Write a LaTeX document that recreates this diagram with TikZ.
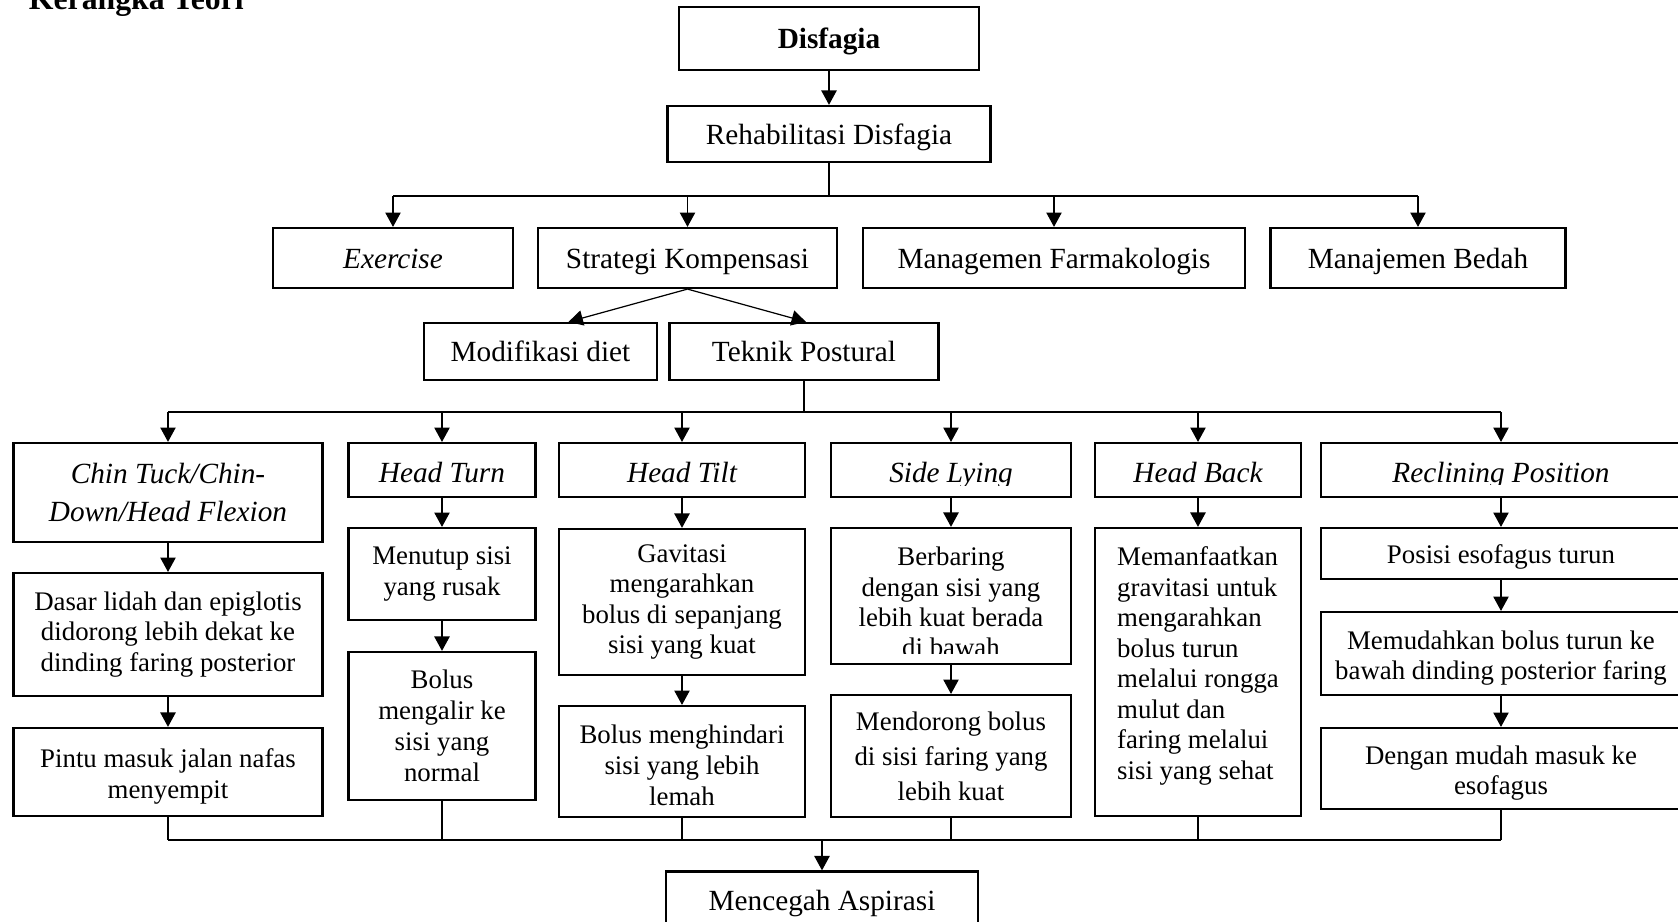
\documentclass[tikz,border=0pt]{standalone}
\usepackage{fontspec}
\setmainfont{Liberation Serif}
\usetikzlibrary{arrows.meta,calc}

\begin{document}
\begin{tikzpicture}[x=0.41pt, y=-0.41pt,
    kotak/.style={draw, line width=0.9pt, inner sep=3pt, align=center, font=\fontsize{12}{13.8}\selectfont},
    tunggal/.style={kotak, text height=8.6pt, text depth=0pt},
    posisi/.style={tunggal, font=\fontsize{12}{13.8}\selectfont\itshape, text height=10pt, minimum height=22.1pt},
    kecil/.style={kotak, font=\fontsize{11}{12.5}\selectfont},
    con/.style={line width=0.5pt},
    arr/.style={con, -{Triangle[length=5.9pt, width=6.3pt]}}]
    \useasboundingbox (0,0) rectangle (1678,922);

    % Define the title and the top boxes
    \node[font=\fontsize{13}{15}\selectfont\bfseries, anchor=base west, inner sep=0pt] (judul) at (28.5,9.5) {Kerangka Teori};
    \node[tunggal, font=\fontsize{12}{13.8}\selectfont\bfseries, minimum width=123pt, minimum height=25.8pt] (disfagia) at (829,38.5) {Disfagia};
    \node[tunggal, minimum width=132.4pt, minimum height=23pt] (rehab) at (829,134) {Rehabilitasi Disfagia};

    % Define the four kinds of rehabilitation
    \node[tunggal, minimum width=98.4pt, minimum height=24.6pt] (exercise) at (393,258) {\textit{Exercise}};
    \node[tunggal, minimum width=122.6pt, minimum height=24.6pt] (strategi) at (687.5,258) {Strategi Kompensasi};
    \node[tunggal, minimum width=156.8pt, minimum height=24.6pt] (farmako) at (1054,258) {Managemen Farmakologis};
    \node[tunggal, minimum width=121pt, minimum height=24.6pt] (bedah) at (1418,258) {Manajemen Bedah};
    \node[tunggal, minimum width=95.5pt, minimum height=23.4pt] (modif) at (540.5,351.5) {Modifikasi diet};
    \node[tunggal, minimum width=110.3pt, minimum height=23.4pt] (teknik) at (804,351.5) {Teknik Postural};

    % Define the postures
    \node[kotak, font=\fontsize{12}{15.8}\selectfont\itshape, minimum width=126.7pt, minimum height=40.6pt] (chin) at (168,492.5) {Chin Tuck/Chin-\\Down/Head Flexion};
    \node[posisi, minimum width=76.7pt] (turn) at (442,470) {Head Turn};
    \node[posisi, minimum width=100.9pt] (tilt) at (682,470) {Head Tilt};
    \node[posisi, minimum width=98.4pt] (lying) at (951,470) {};
    \node[posisi, minimum width=84.5pt] (back) at (1198,470) {Head Back};
    \node[posisi, minimum width=147.6pt] (recl) at (1501,470) {};
    \begin{scope}
        \clip (831,445) rectangle (1071,485);
        \node[font=\fontsize{12}{13.8}\selectfont\itshape, anchor=base] (lyingteks) at (951,482.5) {Side Lying};
    \end{scope}
    \begin{scope}
        \clip (1321,445) rectangle (1681,484);
        \node[font=\fontsize{12}{13.8}\selectfont\itshape, anchor=base] (reclteks) at (1501,482) {Reclining Position};
    \end{scope}

    % Define the effects of each posture
    \node[kecil, minimum width=126.7pt, minimum height=50.4pt] (dasar) at (168,634.5) {Dasar lidah dan epiglotis\\didorong lebih dekat ke\\dinding faring posterior};
    \node[kecil, font=\fontsize{11}{13}\selectfont, text height=24.5pt, minimum width=126.7pt, minimum height=36.1pt] (pintu) at (168,772) {Pintu masuk jalan nafas\\menyempit};
    \node[kecil, minimum width=76.7pt, minimum height=37.7pt] (menutup) at (442,574) {Menutup sisi\\yang rusak};
    \node[kecil, font=\fontsize{11}{12.7}\selectfont, minimum width=76.7pt, minimum height=60.7pt] (bolus) at (442,726) {Bolus\\mengalir ke\\sisi yang\\normal};
    \node[kecil, minimum width=100.9pt, minimum height=59.9pt] (gavitasi) at (682,602) {Gavitasi\\mengarahkan\\bolus di sepanjang\\sisi yang kuat};
    \node[kecil, font=\fontsize{11}{12.7}\selectfont, text height=36.1pt, minimum width=100.9pt, minimum height=45.5pt] (hindari) at (682,761.5) {Bolus menghindari\\sisi yang lebih\\lemah};
    \node[kecil, minimum width=98.4pt, minimum height=55.8pt] (berbaring) at (951,596) {};
    \begin{scope}
        \clip (831,530) rectangle (1071,653);
        \node[font=\fontsize{11}{12.4}\selectfont, align=center] (berbaringteks) at (951,602) {Berbaring\\dengan sisi yang\\lebih kuat berada\\di bawah};
    \end{scope}
    \node[kecil, font=\fontsize{11}{14.3}\selectfont, minimum width=98.4pt, minimum height=50pt] (mendorong) at (951,756) {Mendorong bolus\\di sisi faring yang\\lebih kuat};
    \node[kecil, align=left, text depth=7.4pt, minimum width=84.5pt, minimum height=118.1pt] (manfaat) at (1198,672) {Memanfaatkan\\gravitasi untuk\\mengarahkan\\bolus turun\\melalui rongga\\mulut dan\\faring melalui\\sisi yang sehat};
    \node[kecil, text height=8pt, text depth=0pt, minimum width=147.6pt, minimum height=20.9pt] (posisi) at (1501,553.5) {Posisi esofagus turun};
    \node[kecil, text height=24pt, minimum width=147.6pt, minimum height=34pt] (mudah) at (1501,653.5) {Memudahkan bolus turun ke\\bawah dinding posterior faring};
    \node[kecil, text height=24pt, minimum width=147.6pt, minimum height=33.2pt] (esofagus) at (1501,768.5) {Dengan mudah masuk ke\\esofagus};
    \node[tunggal, minimum width=127.9pt, minimum height=23.4pt] (mencegah) at (822,900) {Mencegah Aspirasi};

    % Bus points of the connectors
    \coordinate (bus1) at (829,196);
    \coordinate (bus2) at (804,412);
    \coordinate (bus3) at (822,840);

    % Draw the arrows between the boxes
    \draw[arr] (disfagia) -- (rehab);
    \draw[con] (rehab) -- (bus1);
    \draw[con] (exercise.north |- bus1) -- (bedah.north |- bus1);
    \foreach \n in {exercise,strategi,farmako,bedah}
        \draw[arr] (\n.north |- bus1) -- (\n.north);
    \draw[arr] (strategi.south) -- ($(modif.north)+(28,0)$);
    \draw[arr] (strategi.south) -- ($(teknik.north)+(2,0)$);
    \draw[con] (teknik) -- (bus2);
    \draw[con] (chin.north |- bus2) -- (recl.north |- bus2);
    \foreach \n in {chin,turn,tilt,lying,back,recl}
        \draw[arr] (\n.north |- bus2) -- (\n.north);
    \foreach \a/\b in {chin/dasar,dasar/pintu,turn/menutup,menutup/bolus,tilt/gavitasi,gavitasi/hindari,lying/berbaring,berbaring/mendorong,back/manfaat,recl/posisi,posisi/mudah,mudah/esofagus}
        \draw[arr] (\a) -- (\b);
    \foreach \n in {pintu,bolus,hindari,mendorong,manfaat,esofagus}
        \draw[con] (\n.south) -- (\n.south |- bus3);
    \draw[con] (pintu.south |- bus3) -- (esofagus.south |- bus3);
    \draw[arr] (bus3) -- (mencegah);
\end{tikzpicture}
\end{document}
